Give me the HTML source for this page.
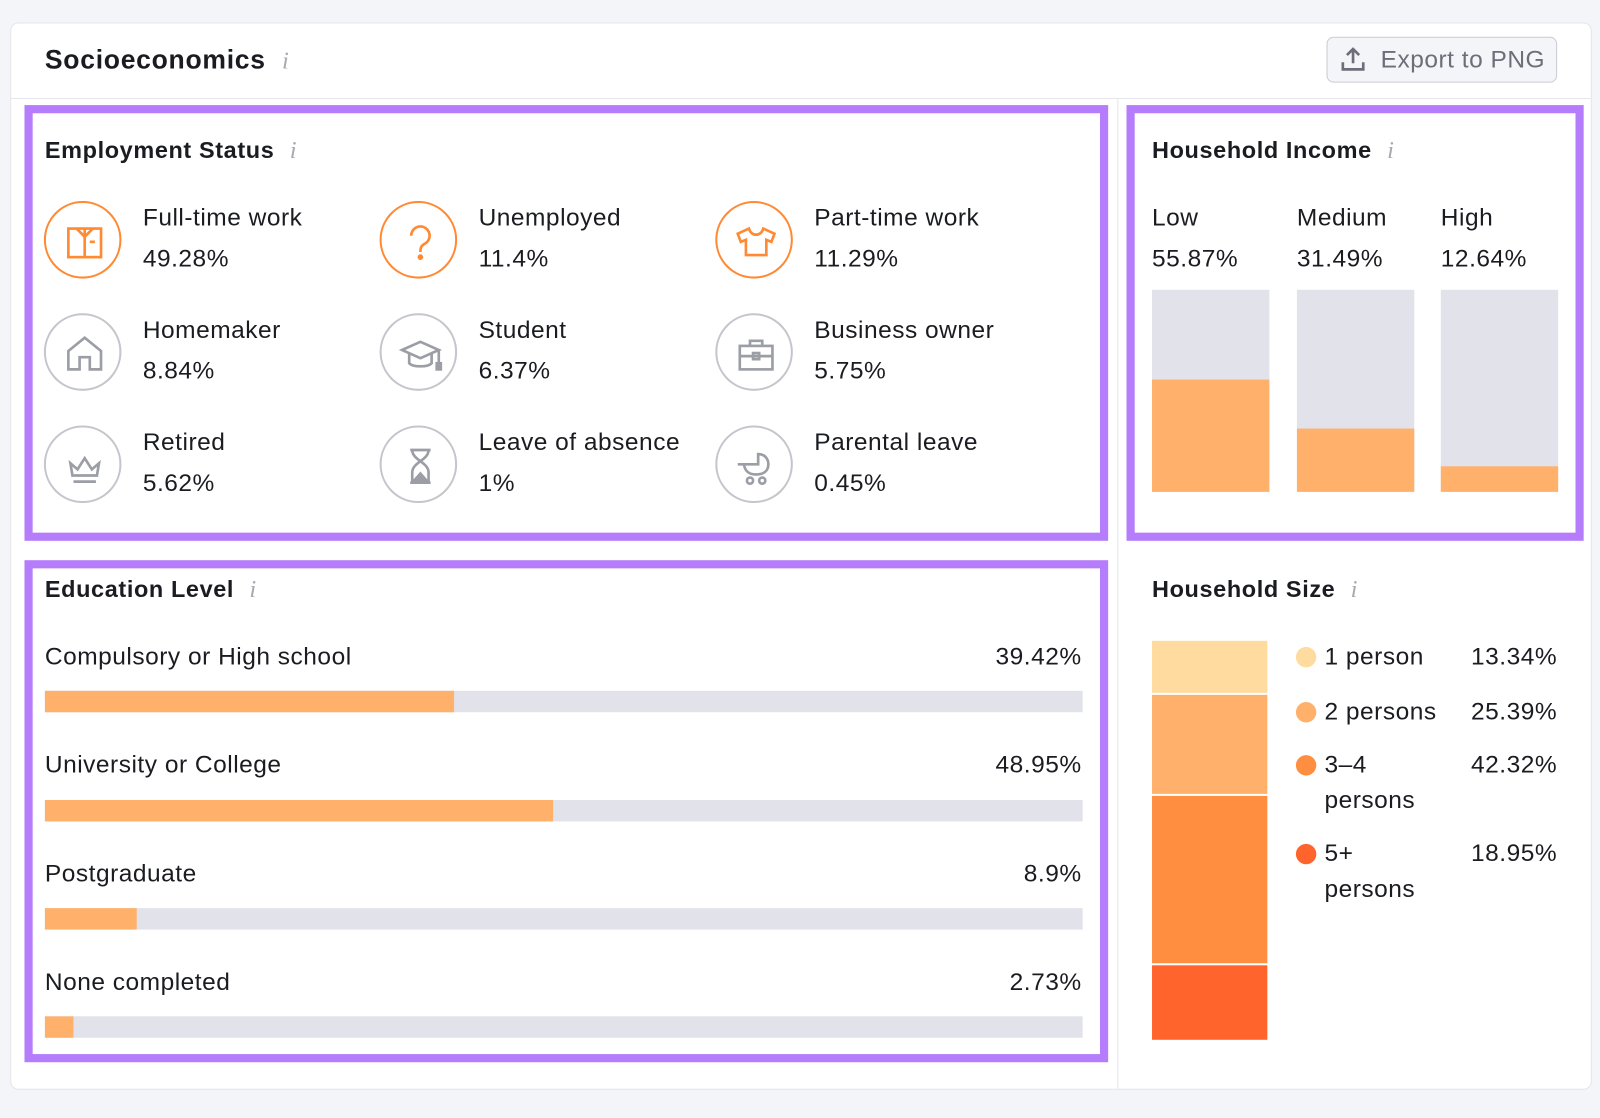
<!DOCTYPE html>
<html><head><meta charset="utf-8"><style>
*{margin:0;padding:0;box-sizing:border-box}
html,body{width:1600px;height:1118px;overflow:hidden;background:#f4f5f9;font-family:"Liberation Sans",sans-serif;color:#1b1c21}
#w{position:absolute;left:0;top:0;width:1568px;height:1096px;transform:scale(1.0204);transform-origin:0 0}
.a{position:absolute;white-space:nowrap}
.t{font-size:24px;line-height:30px;letter-spacing:0.5px}
.b{font-weight:bold;font-size:23px;letter-spacing:0.6px}
.card{position:absolute;left:10px;top:22px;width:1550px;height:1046px;background:#fff;border:1px solid #e4e5ea;border-radius:8px}
.pb{position:absolute;border:8px solid #b57cfb}
.c{position:absolute;width:76px;height:76px;border-radius:50%;border:2.5px solid #c4c6cc}
.c.o{border-color:#ff8a33}
.c svg{position:absolute;left:12px;top:12px}
.i{color:#a7a9b1;font-family:"Liberation Serif",serif;font-style:italic;font-size:24px;font-weight:normal}
.bar{position:absolute;background:#e1e2ea}
.bar div{position:absolute;left:0;background:#ffb16c}
.dot{position:absolute;width:20px;height:20px;border-radius:50%}
</style></head><body><div id="w">
<div class="card"></div>
<div class="a" style="top:96px;height:1px;background:#e4e5ea;left:11px;width:1548px"></div>
<div class="a" style="left:1095px;top:97px;width:1px;height:970px;background:#e4e5ea"></div>
<div class="a" style="left:44px;top:43px;font-size:26px;line-height:30px;font-weight:bold;letter-spacing:0.7px">Socioeconomics <span class="i" style="margin-left:8px">i</span></div>
<div class="a" style="left:1300px;top:36px;width:226px;height:45px;background:#f4f5f9;border:1px solid #c9cbd2;border-radius:7px"></div>
<svg class="a" style="left:1313px;top:45px" width="26" height="26" viewBox="0 0 26 26"><path d="M13 3v14M7 9l6-6 6 6M3 16v7h20v-7" fill="none" stroke="#6c6e79" stroke-width="2.6"/></svg>
<div class="a" style="left:1353px;top:44px;font-size:24px;line-height:30px;color:#6c6e79;letter-spacing:0.5px">Export to PNG</div>

<div class="pb" style="left:24px;top:103px;width:1062px;height:427px"></div>
<div class="pb" style="left:1104px;top:103px;width:448px;height:427px"></div>
<div class="pb" style="left:24px;top:549px;width:1062px;height:492px"></div>

<div class="a b t" style="left:44px;top:132px">Employment Status <span class="i" style="margin-left:8px">i</span></div>

<div class="c o" style="left:43px;top:197px"><svg width="52" height="52" viewBox="0 0 52 52" fill="none" stroke="#ff8a33" stroke-width="2.6"><rect x="10" y="13" width="32" height="28"/><path d="M26 13v28M18 13l8 8 8-8M31 26h5"/></svg></div>
<div class="c o" style="left:372px;top:197px"><svg width="52" height="52" viewBox="0 0 52 52" fill="none" stroke="#ff8a33" stroke-width="2.6"><path d="M17 20a9 9 0 1 1 13 8c-3 2-4 3-4 8"/><circle cx="26" cy="41" r="1.5" fill="#ff8a33"/></svg></div>
<div class="c o" style="left:701px;top:197px"><svg width="52" height="52" viewBox="0 0 52 52" fill="none" stroke="#ff8a33" stroke-width="2.6"><path d="M19 13l-11 5 3 8 5-2v15h20V24l5 2 3-8-11-5c-1 4-4 6-7 6s-6-2-7-6z"/></svg></div>
<div class="c" style="left:43px;top:307px"><svg width="52" height="52" viewBox="0 0 52 52" fill="none" stroke="#9c9ea6" stroke-width="2.6"><path d="M10 41V23l16-13 16 13v18H31V29H21v12z"/></svg></div>
<div class="c" style="left:372px;top:307px"><svg width="52" height="52" viewBox="0 0 52 52" fill="none" stroke="#9c9ea6" stroke-width="2.6"><path d="M8 22l18-8 18 8-18 8zM15 26v9c4 4 18 4 22 0v-9M44 22v14"/><rect x="42" y="35" width="4" height="6" fill="#9c9ea6"/></svg></div>
<div class="c" style="left:701px;top:307px"><svg width="52" height="52" viewBox="0 0 52 52" fill="none" stroke="#9c9ea6" stroke-width="2.6"><rect x="10" y="18" width="32" height="23"/><path d="M20 18v-5h12v5M10 28h32"/><rect x="23" y="25" width="6" height="6"/></svg></div>
<div class="c" style="left:43px;top:417px"><svg width="52" height="52" viewBox="0 0 52 52" fill="none" stroke="#9c9ea6" stroke-width="2.6"><path d="M12 23l7 6 7-11 7 11 7-6-2 12H14z M15 41h22"/></svg></div>
<div class="c" style="left:372px;top:417px"><svg width="52" height="52" viewBox="0 0 52 52" fill="none" stroke="#9c9ea6" stroke-width="2.6"><path d="M16 10h20M16 42h20M18 10c0 10 16 12 16 22v10M34 10c0 10-16 12-16 22v10"/><path d="M19 41l7-8 7 8z" fill="#9c9ea6"/></svg></div>
<div class="c" style="left:701px;top:417px"><svg width="52" height="52" viewBox="0 0 52 52" fill="none" stroke="#9c9ea6" stroke-width="2.6"><path d="M8 24h6c1 6 4 10 12 10s12-4 12-10c0-6-4-10-10-10v10H14"/><circle cx="20" cy="40" r="3"/><circle cx="32" cy="40" r="3"/></svg></div>

<div class="a t" style="left:140px;top:199px">Full-time work</div><div class="a t" style="left:140px;top:239px">49.28%</div>
<div class="a t" style="left:469px;top:199px">Unemployed</div><div class="a t" style="left:469px;top:239px">11.4%</div>
<div class="a t" style="left:798px;top:199px">Part-time work</div><div class="a t" style="left:798px;top:239px">11.29%</div>
<div class="a t" style="left:140px;top:309px">Homemaker</div><div class="a t" style="left:140px;top:349px">8.84%</div>
<div class="a t" style="left:469px;top:309px">Student</div><div class="a t" style="left:469px;top:349px">6.37%</div>
<div class="a t" style="left:798px;top:309px">Business owner</div><div class="a t" style="left:798px;top:349px">5.75%</div>
<div class="a t" style="left:140px;top:419px">Retired</div><div class="a t" style="left:140px;top:459px">5.62%</div>
<div class="a t" style="left:469px;top:419px">Leave of absence</div><div class="a t" style="left:469px;top:459px">1%</div>
<div class="a t" style="left:798px;top:419px">Parental leave</div><div class="a t" style="left:798px;top:459px">0.45%</div>

<div class="a b t" style="left:1129px;top:132px">Household Income <span class="i" style="margin-left:8px">i</span></div>
<div class="a t" style="left:1129px;top:199px">Low</div><div class="a t" style="left:1129px;top:239px">55.87%</div>
<div class="a t" style="left:1271px;top:199px">Medium</div><div class="a t" style="left:1271px;top:239px">31.49%</div>
<div class="a t" style="left:1412px;top:199px">High</div><div class="a t" style="left:1412px;top:239px">12.64%</div>
<div class="bar" style="left:1129px;top:284px;width:115px;height:198px"><div style="bottom:0;width:115px;height:110px"></div></div>
<div class="bar" style="left:1271px;top:284px;width:115px;height:198px"><div style="bottom:0;width:115px;height:62px"></div></div>
<div class="bar" style="left:1412px;top:284px;width:115px;height:198px"><div style="bottom:0;width:115px;height:25px"></div></div>

<div class="a b t" style="left:44px;top:562px">Education Level <span class="i" style="margin-left:8px">i</span></div>
<div class="a t" style="left:44px;top:629px">Compulsory or High school</div><div class="a t" style="right:508px;top:629px">39.42%</div>
<div class="bar" style="left:44px;top:677px;width:1017px;height:21px"><div style="top:0;height:21px;width:401px"></div></div>
<div class="a t" style="left:44px;top:735px">University or College</div><div class="a t" style="right:508px;top:735px">48.95%</div>
<div class="bar" style="left:44px;top:784px;width:1017px;height:21px"><div style="top:0;height:21px;width:498px"></div></div>
<div class="a t" style="left:44px;top:842px">Postgraduate</div><div class="a t" style="right:508px;top:842px">8.9%</div>
<div class="bar" style="left:44px;top:890px;width:1017px;height:21px"><div style="top:0;height:21px;width:90px"></div></div>
<div class="a t" style="left:44px;top:948px">None completed</div><div class="a t" style="right:508px;top:948px">2.73%</div>
<div class="bar" style="left:44px;top:996px;width:1017px;height:21px"><div style="top:0;height:21px;width:28px"></div></div>

<div class="a b t" style="left:1129px;top:562px">Household Size <span class="i" style="margin-left:8px">i</span></div>
<div class="a" style="left:1129px;top:628px;width:113px;height:51px;background:#ffdba0"></div>
<div class="a" style="left:1129px;top:681px;width:113px;height:97px;background:#ffb16c"></div>
<div class="a" style="left:1129px;top:780px;width:113px;height:164px;background:#ff8e40"></div>
<div class="a" style="left:1129px;top:946px;width:113px;height:73px;background:#ff642d"></div>
<div class="dot" style="left:1270px;top:634px;background:#ffdba0"></div>
<div class="dot" style="left:1270px;top:688px;background:#ffb16c"></div>
<div class="dot" style="left:1270px;top:740px;background:#ff8e40"></div>
<div class="dot" style="left:1270px;top:827px;background:#ff642d"></div>
<div class="a t" style="left:1298px;top:629px">1 person</div><div class="a t" style="right:42px;top:629px">13.34%</div>
<div class="a t" style="left:1298px;top:683px">2 persons</div><div class="a t" style="right:42px;top:683px">25.39%</div>
<div class="a t" style="left:1298px;top:735px">3–4</div><div class="a t" style="left:1298px;top:770px">persons</div><div class="a t" style="right:42px;top:735px">42.32%</div>
<div class="a t" style="left:1298px;top:822px">5+</div><div class="a t" style="left:1298px;top:857px">persons</div><div class="a t" style="right:42px;top:822px">18.95%</div>
</div></body></html>
